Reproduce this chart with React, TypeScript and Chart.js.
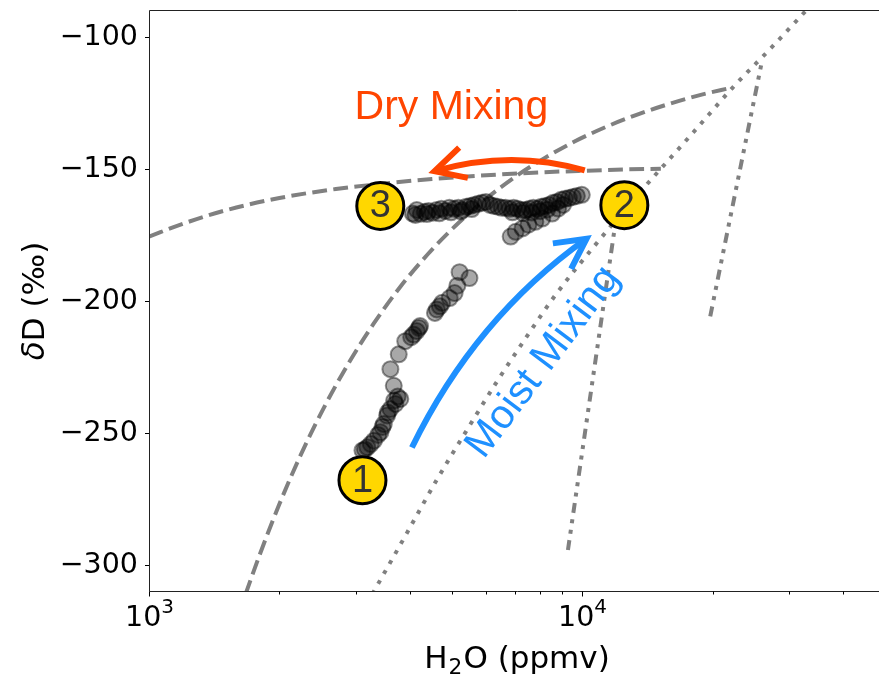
import React, { useEffect, useRef } from "react";
import { Chart, registerables } from "chart.js";

Chart.register(...registerables);

// ---------- axes ----------
const xMin = 1000;
const xMax = 50000;
const yMin = -310;
const yMax = -89.6;
const yTicks = [-300, -250, -200, -150, -100];
const xMajorTicks = [1000, 10000];
const xMajorExp = ["3", "4"];
const xMinorTicks = [2000, 3000, 4000, 5000, 6000, 7000, 8000, 9000, 20000, 30000, 40000];

// ---------- observations ----------
const lowerObsX = [5211, 5492, 5076, 4944, 4692, 4571, 4224, 4152, 4080, 3904, 3771, 3608, 3673, 3803, 3705, 3608, 3545, 3484, 3422, 3306, 3192, 3110, 4200, 4620, 4750, 3750, 3680, 3560, 3460, 3380, 3250, 3150, 4030, 5150];
const lowerObsY = [-188.9, -191.1, -196.8, -198.7, -201.8, -204.3, -209.3, -211.2, -212.5, -215.0, -220.0, -225.6, -231.9, -236.9, -238.8, -240.7, -243.2, -246.4, -249.5, -252.7, -255.2, -256.4, -210.0, -203.0, -200.5, -236.0, -237.5, -242.0, -247.5, -250.5, -254.0, -256.0, -213.5, -194.0];

const upperObsX = [4064, 4152, 4240, 4330, 4421, 4516, 4610, 4733, 4833, 4935, 5068, 5176, 5286, 5397, 5511, 5629, 5748, 5871, 5995, 6124, 6254, 6386, 6521, 6660, 6801, 6945, 7093, 7243, 7397, 7553, 7714, 7877, 8045, 8215, 8389, 8567, 8750, 8935, 9125, 9319, 9519, 9721, 9979, 6837, 7020, 7282, 7514, 7797, 8087, 8523, 8796, 9031, 4120, 4380, 4680, 4980, 5250, 5560, 6900, 7300, 7650, 8000, 8300];
const upperObsY = [-166.7, -165.3, -166.8, -166.0, -165.7, -166.4, -165.3, -164.9, -165.7, -164.5, -164.9, -164.5, -165.3, -164.1, -163.8, -163.4, -163.0, -162.6, -162.3, -163.4, -163.8, -164.1, -164.5, -164.5, -164.9, -164.5, -164.9, -165.3, -165.3, -164.9, -164.5, -164.9, -164.1, -163.8, -163.4, -162.6, -162.3, -161.5, -161.1, -160.8, -160.4, -160.0, -159.6, -175.4, -173.6, -172.3, -170.9, -169.8, -168.6, -166.7, -164.8, -163.4, -167.2, -166.9, -166.6, -166.2, -165.9, -165.0, -166.2, -166.5, -166.3, -165.8, -165.2];

// ---------- model curves ----------
const dryMixX = [1000, 1200, 1500, 2000, 2700, 3500, 4500, 6000, 8000, 10000, 12500, 15190];
const dryMixY = [-175.4, -170.5, -165.5, -160.8, -157.4, -155.3, -153.6, -152.2, -151.1, -150.5, -150.0, -149.7];

const moistMixX = [1670, 1800, 2000, 2250, 2550, 2900, 3300, 3800, 4400, 5100, 6000, 7000, 8200, 9600, 11300, 13300, 15700, 18500, 22280];
const moistMixY = [-310.9, -296.0, -276.7, -257.4, -239.3, -222.9, -208.4, -194.5, -182.1, -171.3, -161.1, -152.8, -145.6, -139.4, -134.0, -129.4, -125.4, -122.0, -118.9];

const rayleighX = [3280, 3938, 4610, 5397, 6318, 7397, 8660, 10690, 13180, 15190, 18060, 22280, 27500, 32530, 33570];
const rayleighY = [-310.7, -287.7, -267.7, -249.1, -231.0, -214.0, -197.7, -178.8, -161.1, -149.7, -135.9, -118.9, -103.4, -90.6, -88.2];

const evapAX = [9270, 11870];
const evapAY = [-294.1, -172.8];
const evapBX = [19750, 25960];
const evapBY = [-205.6, -109.5];

// ---------- annotations (data coords) ----------
const markerLabels = ["1", "2", "3"];
const markerX = [3110, 12510, 3419];
const markerY = [-267.7, -163.5, -163.8];

const redArrowX = [10137, 6836, 4562]; // tail, control, head
const redArrowY = [-150.3, -142.3, -150.6];
const blueArrowX = [4045, 5657, 10233];
const blueArrowY = [-255.3, -206.3, -176.2];

const dryText = "Dry Mixing";
const dryTextX = 4989;
const dryTextY = -131.0;
const moistText = "Moist Mixing";
const moistTextX = 8128;
const moistTextY = -223.0;

const xTitleMain = ["H", "2", "O (ppmv)"];
const yTitleParts = ["δ", "D (‰)"];

const zip = (xs: number[], ys: number[]) => xs.map((x, i) => ({ x, y: ys[i] }));

const GRAY = "#808080";
const TICK_FONT = "28.5px 'DejaVu Sans'";
const ANN_FONT = "'Liberation Sans', Arial, sans-serif";

function drawArrow(ctx: CanvasRenderingContext2D, p0: any, c: any, p1: any, color: string, lw: number) {
  ctx.save();
  ctx.strokeStyle = color;
  ctx.lineWidth = lw;
  ctx.lineCap = "butt";
  ctx.lineJoin = "miter";
  ctx.beginPath();
  ctx.moveTo(p0.x, p0.y);
  ctx.quadraticCurveTo(c.x, c.y, p1.x, p1.y);
  ctx.stroke();
  const ang = Math.atan2(p1.y - c.y, p1.x - c.x);
  const L = 34;
  const a = 0.48;
  ctx.beginPath();
  ctx.moveTo(p1.x - L * Math.cos(ang - a), p1.y - L * Math.sin(ang - a));
  ctx.lineTo(p1.x, p1.y);
  ctx.lineTo(p1.x - L * Math.cos(ang + a), p1.y - L * Math.sin(ang + a));
  ctx.stroke();
  ctx.restore();
}

const annotPlugin = {
  id: "annot",
  afterDatasetsDraw(chart: any) {
    const { ctx, scales } = chart;
    const sx = scales.x;
    const sy = scales.y;
    const P = (xv: number, yv: number) => ({ x: sx.getPixelForValue(xv), y: sy.getPixelForValue(yv) });

    drawArrow(ctx, P(redArrowX[0], redArrowY[0]), P(redArrowX[1], redArrowY[1]), P(redArrowX[2], redArrowY[2]), "#FF4500", 6);
    drawArrow(ctx, P(blueArrowX[0], blueArrowY[0]), P(blueArrowX[1], blueArrowY[1]), P(blueArrowX[2], blueArrowY[2]), "#1E90FF", 6);

    ctx.save();
    ctx.font = "41px " + ANN_FONT;
    ctx.fillStyle = "#FF4500";
    ctx.textAlign = "center";
    ctx.textBaseline = "alphabetic";
    const d = P(dryTextX, dryTextY);
    ctx.fillText(dryText, d.x, d.y);
    const m = P(moistTextX, moistTextY);
    ctx.translate(m.x, m.y);
    ctx.rotate((-53 * Math.PI) / 180);
    ctx.fillStyle = "#1E90FF";
    ctx.textBaseline = "middle";
    ctx.fillText(moistText, 0, 0);
    ctx.restore();

    ctx.save();
    for (let i = 0; i < markerLabels.length; i++) {
      const p = P(markerX[i], markerY[i]);
      ctx.beginPath();
      ctx.arc(p.x, p.y, 23.5, 0, Math.PI * 2);
      ctx.fillStyle = "#FFD700";
      ctx.fill();
      ctx.lineWidth = 3;
      ctx.strokeStyle = "#000";
      ctx.stroke();
      ctx.fillStyle = "#333";
      ctx.font = "38px " + ANN_FONT;
      ctx.textAlign = "center";
      ctx.textBaseline = "middle";
      ctx.fillText(markerLabels[i], p.x, p.y + 1);
    }
    ctx.restore();
  },
  afterDraw(chart: any) {
    const { ctx, chartArea: ca, scales } = chart;
    const sx = scales.x;
    ctx.save();
    // spines
    ctx.strokeStyle = "#222";
    ctx.lineWidth = 1;
    ctx.beginPath();
    const L = Math.round(ca.left) + 0.5;
    const T = Math.round(ca.top) + 0.5;
    const B = Math.round(ca.bottom) - 0.5;
    ctx.moveTo(L, T);
    ctx.lineTo(L, B);
    ctx.lineTo(ca.right, B);
    ctx.moveTo(L, T);
    ctx.lineTo(ca.right, T);
    ctx.stroke();

    // x ticks
    ctx.strokeStyle = "#000";
    for (const v of xMinorTicks) {
      const px = Math.round(sx.getPixelForValue(v)) + 0.5;
      ctx.beginPath();
      ctx.moveTo(px, B);
      ctx.lineTo(px, B + 3);
      ctx.stroke();
    }
    ctx.fillStyle = "#000";
    for (let i = 0; i < xMajorTicks.length; i++) {
      const px = Math.round(sx.getPixelForValue(xMajorTicks[i])) + 0.5;
      ctx.beginPath();
      ctx.moveTo(px, B);
      ctx.lineTo(px, B + 5);
      ctx.stroke();
      ctx.font = TICK_FONT;
      const w1 = ctx.measureText("10").width;
      ctx.font = "20px 'DejaVu Sans'";
      const w2 = ctx.measureText(xMajorExp[i]).width;
      const x0 = px - (w1 + w2) / 2;
      ctx.textAlign = "left";
      ctx.textBaseline = "alphabetic";
      ctx.font = TICK_FONT;
      ctx.fillText("10", x0, 626);
      ctx.font = "20px 'DejaVu Sans'";
      ctx.fillText(xMajorExp[i], x0 + w1, 613);
    }

    // x title
    const fMain = "31px 'DejaVu Sans'";
    const fSub = "21.7px 'DejaVu Sans'";
    ctx.font = fMain;
    const wa = ctx.measureText(xTitleMain[0]).width;
    const wc = ctx.measureText(xTitleMain[2]).width;
    ctx.font = fSub;
    const wb = ctx.measureText(xTitleMain[1]).width;
    const tot = wa + wb + wc + 2;
    const cx = (ca.left + ca.right) / 2;
    let xx = cx - tot / 2;
    ctx.textAlign = "left";
    ctx.textBaseline = "alphabetic";
    ctx.font = fMain;
    ctx.fillText(xTitleMain[0], xx, 668);
    xx += wa + 1;
    ctx.font = fSub;
    ctx.fillText(xTitleMain[1], xx, 674);
    xx += wb + 1;
    ctx.font = fMain;
    ctx.fillText(xTitleMain[2], xx, 668);

    // y title
    ctx.translate(44, (ca.top + ca.bottom) / 2);
    ctx.rotate(-Math.PI / 2);
    const fIt = "italic 31px 'DejaVu Sans'";
    ctx.font = fIt;
    const w1 = ctx.measureText(yTitleParts[0]).width;
    ctx.font = fMain;
    const w2 = ctx.measureText(yTitleParts[1]).width;
    const start = -(w1 + w2) / 2;
    ctx.font = fIt;
    ctx.fillText(yTitleParts[0], start, 0);
    ctx.font = fMain;
    ctx.fillText(yTitleParts[1], start + w1, 0);
    ctx.restore();
  },
};

export default function App() {
  const ref = useRef<HTMLCanvasElement | null>(null);
  useEffect(() => {
    if (!ref.current) return;
    const pointStyle = {
      pointRadius: 8,
      pointBorderWidth: 2,
      backgroundColor: "rgba(0,0,0,0.34)",
      borderColor: "rgba(0,0,0,0.42)",
      showLine: false,
      order: 0,
    };
    const lineBase = {
      showLine: true,
      pointRadius: 0,
      borderColor: GRAY,
      borderWidth: 4,
      fill: false,
      borderCapStyle: "butt",
      order: 1,
    };
    const chart = new Chart(ref.current, {
      type: "scatter",
      data: {
        datasets: [
          { ...pointStyle, data: zip(upperObsX, upperObsY) },
          { ...pointStyle, data: zip(lowerObsX, lowerObsY) },
          { ...lineBase, data: zip(dryMixX, dryMixY), borderDash: [14.8, 6.4], cubicInterpolationMode: "monotone" },
          { ...lineBase, data: zip(moistMixX, moistMixY), borderDash: [14.8, 6.4], cubicInterpolationMode: "monotone" },
          { ...lineBase, data: zip(rayleighX, rayleighY), borderDash: [4, 7.5], cubicInterpolationMode: "monotone" },
          { ...lineBase, data: zip(evapAX, evapAY), borderDash: [10, 6.5, 4, 6.5, 4, 6.5] },
          { ...lineBase, data: zip(evapBX, evapBY), borderDash: [10, 6.5, 4, 6.5, 4, 6.5] },
        ] as any,
      },
      options: {
        animation: false,
        responsive: false,
        events: [],
        layout: { padding: { top: 7, right: 1, left: 0, bottom: 0 } },
        plugins: { legend: { display: false }, tooltip: { enabled: false } },
        scales: {
          x: {
            type: "logarithmic",
            min: xMin,
            max: xMax,
            ticks: { display: false },
            grid: { display: false },
            border: { display: false },
            afterFit: (s: any) => {
              s.height = 82;
              s.paddingLeft = 0;
              s.paddingRight = 0;
            },
          },
          y: {
            type: "linear",
            min: yMin,
            max: yMax,
            afterBuildTicks: (s: any) => {
              s.ticks = yTicks.map((v) => ({ value: v }));
            },
            ticks: {
              callback: (v: any) => "\u2212" + Math.abs(Number(v)),
              font: { family: "'DejaVu Sans'", size: 28.5 },
              color: "#000",
              padding: 7,
            },
            grid: { drawOnChartArea: false, drawTicks: true, tickLength: 4, tickColor: "#000", tickWidth: 1 },
            border: { display: false },
            afterFit: (s: any) => {
              s.width = 149;
              s.paddingTop = 0;
              s.paddingBottom = 0;
            },
          },
        },
      } as any,
      plugins: [annotPlugin],
    });
    return () => chart.destroy();
  }, []);
  return (
    <div style={{ position: "fixed", left: 0, top: 0, width: 879, height: 674, overflow: "hidden", background: "#fff" }}>
      <canvas ref={ref} width={895} height={674} style={{ display: "block" }} />
    </div>
  );
}
